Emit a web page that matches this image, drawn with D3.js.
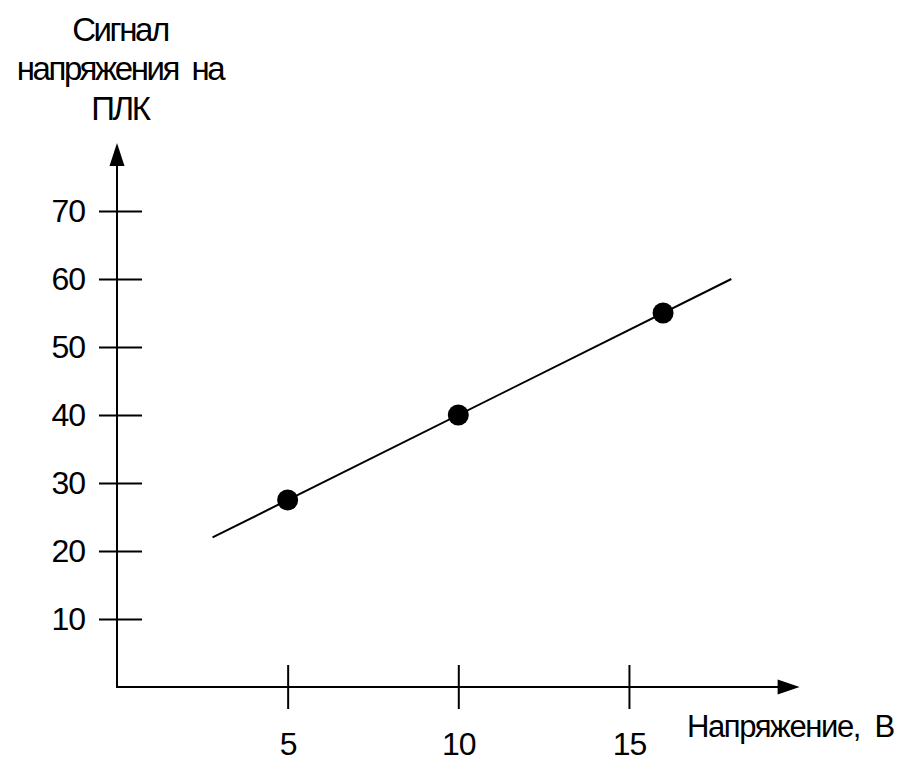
<!DOCTYPE html>
<html>
<head>
<meta charset="utf-8">
<script src="https://cdn.jsdelivr.net/npm/d3@7"></script>
<style>
  body { margin: 0; background: #fff; }
  svg text { font-family: "Liberation Sans", Arial, sans-serif; fill: #000; }
</style>
</head>
<body>
<svg id="chart"></svg>
<script>
// data
const xTicks = [5, 10, 15];
const yTicks = [10, 20, 30, 40, 50, 60, 70];
const pointX = [5, 10, 16];
const pointY = [27.5, 40, 55];
// fitted line ends
const lineX = [2.8, 18];
const lineY = [22, 60];
const yTitle = ["Сигнал", "напряжения  на", "ПЛК"];
const xTitle = "Напряжение,  В";

const width = 899;
const height = 762;

const svg = d3.select("#chart")
    .attr("width", width)
    .attr("height", height);

// origin sits at (117, 687)
const x = d3.scaleLinear().domain([0, 20]).range([117, 799.6]);
const y = d3.scaleLinear().domain([0, 80]).range([687, 143]);

// y axis, ticks cross the axis line
const yAxis = svg.append("g")
    .attr("transform", `translate(${x(0)},0)`)
    .call(d3.axisLeft(y).tickValues(yTicks).tickSize(18).tickPadding(14).tickSizeOuter(0));
yAxis.select(".domain").remove();
yAxis.selectAll(".tick line").attr("x1", 25).attr("stroke-width", 2);
yAxis.selectAll(".tick text")
    .attr("font-size", 32)
    .attr("letter-spacing", "-1px")
    .attr("font-family", "Liberation Sans, Arial, sans-serif");

// x axis
const xAxis = svg.append("g")
    .attr("transform", `translate(0,${y(0)})`)
    .call(d3.axisBottom(x).tickValues(xTicks).tickSize(22).tickPadding(0).tickSizeOuter(0));
xAxis.select(".domain").remove();
xAxis.selectAll(".tick line").attr("y1", -22).attr("stroke-width", 2);
xAxis.selectAll(".tick text")
    .attr("font-size", 32)
    .attr("letter-spacing", "-1px")
    .attr("font-family", "Liberation Sans, Arial, sans-serif")
    .attr("dy", null)
    .attr("y", 68);

// axis lines with arrows
const [x0, x1] = x.range();
const [y0, y1] = y.range();
svg.append("line")
    .attr("x1", x0).attr("y1", y0).attr("x2", x1 - 20).attr("y2", y0)
    .attr("stroke", "#000").attr("stroke-width", 2);
svg.append("path")
    .attr("d", `M${x1},${y0} L${x1 - 22},${y0 - 7.5} L${x1 - 22},${y0 + 7.5} Z`)
    .attr("fill", "#000");
svg.append("line")
    .attr("x1", x0).attr("y1", y0 + 1).attr("x2", x0).attr("y2", y1 + 20)
    .attr("stroke", "#000").attr("stroke-width", 2);
svg.append("path")
    .attr("d", `M${x0},${y1} L${x0 - 7.5},${y1 + 23} L${x0 + 7.5},${y1 + 23} Z`)
    .attr("fill", "#000");

// trend line
svg.append("path")
    .datum(lineX.map((d, i) => [d, lineY[i]]))
    .attr("fill", "none")
    .attr("stroke", "#000")
    .attr("stroke-width", 2)
    .attr("d", d3.line().x(d => x(d[0])).y(d => y(d[1])));

// points
svg.selectAll("circle.pt")
    .data(pointX.map((d, i) => [d, pointY[i]]))
    .join("circle")
    .attr("class", "pt")
    .attr("cx", d => x(d[0]))
    .attr("cy", d => y(d[1]))
    .attr("r", 10.5)
    .attr("fill", "#000");

// titles
svg.selectAll("text.ytitle")
    .data(yTitle)
    .join("text")
    .attr("class", "ytitle")
    .attr("x", 120)
    .attr("y", (d, i) => [40.5, 80, 119.5][i])
    .attr("text-anchor", "middle")
    .attr("font-size", 33)
    .attr("letter-spacing", "-2.4px")
    .style("white-space", "pre")
    .text(d => d);

svg.append("text")
    .attr("x", 687)
    .attr("y", 737)
    .attr("font-size", 31)
    .attr("letter-spacing", "-1.4px")
    .style("white-space", "pre")
    .text(xTitle);
</script>
</body>
</html>
